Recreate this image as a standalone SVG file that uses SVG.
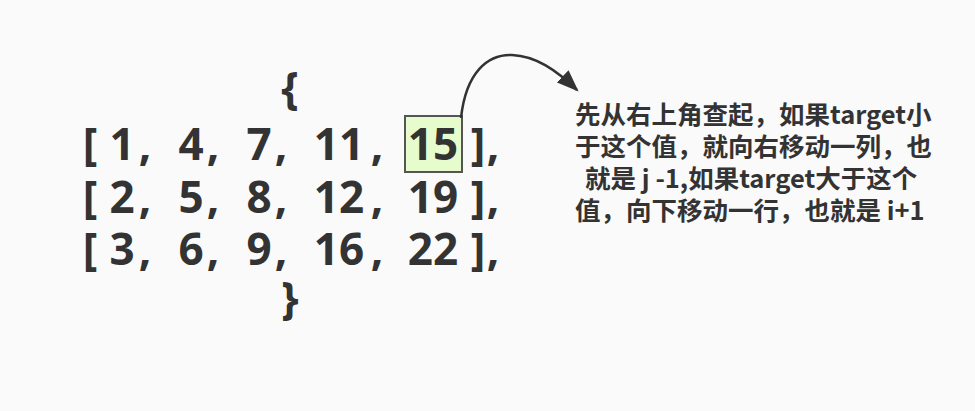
<svg xmlns="http://www.w3.org/2000/svg" width="975" height="411" viewBox="0 0 975 411">
<defs>
<style>
.m{font-family:"Noto Sans","Open Sans","Liberation Sans",sans-serif;font-weight:bold;font-size:44px;fill:#333;text-anchor:middle}
.n{font-family:"Noto Sans CJK SC","Noto Sans",sans-serif;font-weight:bold;font-size:25.5px;fill:#333}
</style>
<marker id="ah" viewBox="0 0 10 10" refX="9" refY="5" markerWidth="22" markerHeight="17" markerUnits="userSpaceOnUse" orient="auto" preserveAspectRatio="none">
<path d="M0,0 L10,5 L0,10 z" fill="#333"/>
</marker>
</defs>
<rect width="975" height="411" fill="#fafafa"/>
<g id="matrix">
<text class="m" x="290" y="104">{</text>
<text class="m" x="90" y="160">[</text><text class="m" x="122" y="160">1</text><text class="m" x="145" y="160">,</text><text class="m" x="191" y="160">4</text><text class="m" x="213" y="160">,</text><text class="m" x="259" y="160">7</text><text class="m" x="281" y="160">,</text><text class="m" x="339" y="160">11</text><text class="m" x="377" y="160">,</text><text class="m" x="478" y="160">]</text><text class="m" x="493" y="160">,</text>
<text class="m" x="90" y="213">[</text><text class="m" x="122" y="213">2</text><text class="m" x="145" y="213">,</text><text class="m" x="191" y="213">5</text><text class="m" x="213" y="213">,</text><text class="m" x="259" y="213">8</text><text class="m" x="281" y="213">,</text><text class="m" x="339" y="213">12</text><text class="m" x="377" y="213">,</text><text class="m" x="433" y="213">19</text><text class="m" x="478" y="213">]</text><text class="m" x="493" y="213">,</text>
<text class="m" x="90" y="265">[</text><text class="m" x="122" y="265">3</text><text class="m" x="145" y="265">,</text><text class="m" x="191" y="265">6</text><text class="m" x="213" y="265">,</text><text class="m" x="259" y="265">9</text><text class="m" x="281" y="265">,</text><text class="m" x="339" y="265">16</text><text class="m" x="377" y="265">,</text><text class="m" x="433" y="265">22</text><text class="m" x="478" y="265">]</text><text class="m" x="493" y="265">,</text>
<text class="m" x="290" y="314">}</text>
</g>
<g id="target">
<rect x="405" y="116" width="57" height="56" fill="#e6fccc" stroke="#555" stroke-width="2"/>
<text class="m" x="433" y="160">15</text>
</g>
<g id="note">
<text class="n" x="575" y="124">先从右上角查起，如果target小</text>
<text class="n" x="575" y="156">于这个值，就向右移动一列，也</text>
<text class="n" x="585" y="188">就是 j -1,如果target大于这个</text>
<text class="n" x="575" y="220">值，向下移动一行，也就是 i+1</text>
</g>
<g id="connectors">
<path d="M461,118 C466,72 488,54 512,55 C536,56 556,70 577,90" fill="none" stroke="#333" stroke-width="2.5" marker-end="url(#ah)"/>
</g>
</svg>
